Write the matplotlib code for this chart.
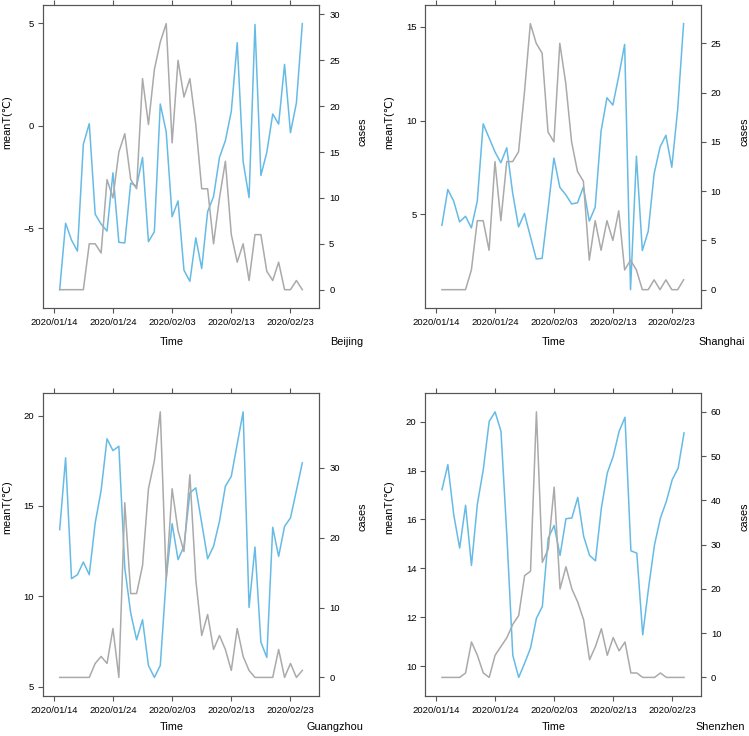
import numpy as np
import pandas as pd
import matplotlib
matplotlib.use('Agg')
import matplotlib.pyplot as plt

plt.rcParams['font.family'] = ['Liberation Sans', 'DejaVu Sans']

# daily series, 2020/01/15 .. 2020/02/25
days = pd.date_range('2020-01-15', periods=42)
tick_days = pd.to_datetime(['2020-01-14', '2020-01-24', '2020-02-03', '2020-02-13', '2020-02-23'])
tick_labels = ['2020/01/14', '2020/01/24', '2020/02/03', '2020/02/13', '2020/02/23']

bj_temp = [-8.0, -4.76, -5.58, -6.12, -0.9, 0.1, -4.32, -4.8, -5.14, -2.3, -5.69, -5.72,
           -2.8, -2.95, -1.55, -5.66, -5.17, 1.06, -0.3, -4.44, -3.67, -7.05, -7.59, -5.47,
           -6.97, -4.19, -3.46, -1.55, -0.73, 0.7, 4.05, -1.75, -3.51, 4.94, -2.43, -1.3,
           0.57, 0.08, 2.99, -0.34, 1.11, 4.98]
bj_cases = [0, 0, 0, 0, 0, 5, 5, 4, 12, 10, 15, 17, 12, 11, 23, 18, 24, 27, 29, 16, 25, 21,
            23, 18, 11, 11, 5, 10, 14, 6, 3, 5, 1, 6, 6, 2, 1, 3, 0, 0, 1, 0]

sh_temp = [4.41, 6.32, 5.7, 4.59, 4.89, 4.27, 5.7, 9.83, 9.08, 8.33, 7.75, 8.55, 6.14, 4.32,
           5.04, 3.82, 2.61, 2.64, 5.25, 8.0, 6.44, 6.05, 5.55, 5.61, 6.46, 4.63, 5.37, 9.44,
           11.22, 10.83, 12.38, 14.07, 0.97, 8.1, 3.06, 4.09, 7.16, 8.58, 9.22, 7.51, 10.6, 15.18]
sh_cases = [0, 0, 0, 0, 0, 2, 7, 7, 4, 13, 7, 13, 13, 14, 20, 27, 25, 24, 16, 15, 25, 21,
            15, 12, 11, 3, 7, 4, 7, 5, 8, 2, 3, 2, 0, 0, 1, 0, 1, 0, 0, 1]

gz_temp = [13.69, 17.66, 10.98, 11.2, 11.9, 11.2, 14.06, 15.85, 18.71, 18.06, 18.3, 11.57,
           9.08, 7.6, 8.71, 6.18, 5.52, 6.18, 11.0, 14.02, 12.03, 12.77, 15.72, 16.0, 14.06,
           12.08, 12.77, 14.15, 16.09, 16.64, 18.43, 20.2, 9.39, 12.73, 7.47, 6.62, 13.82,
           12.21, 13.87, 14.34, 15.85, 17.38]
gz_cases = [0, 0, 0, 0, 0, 0, 2, 3, 2, 7, 0, 25, 12, 12, 16, 27, 31, 38, 14, 27, 21, 18,
            29, 14, 6, 9, 4, 6, 4, 1, 7, 3, 1, 0, 0, 0, 0, 4, 0, 2, 0, 1]

sz_temp = [17.22, 18.24, 16.19, 14.83, 16.58, 14.12, 16.63, 18.04, 20.01, 20.4, 19.6, 15.31,
           10.44, 9.54, 10.12, 10.74, 11.96, 12.44, 15.24, 15.75, 14.53, 16.03, 16.06, 16.9,
           15.31, 14.53, 14.31, 16.47, 17.9, 18.58, 19.6, 20.18, 14.72, 14.62, 11.28, 13.22,
           14.97, 16.06, 16.74, 17.63, 18.1, 19.54]
sz_cases = [0, 0, 0, 0, 1, 8, 5, 1, 0, 5, 7, 9, 12, 14, 23, 24, 60, 26, 29, 43, 20, 25,
            20, 17, 13, 4, 7, 11, 5, 9, 6, 8, 1, 1, 0, 0, 0, 1, 0, 0, 0, 0]

W, H = 749, 736
blue = '#66BBE6'
gray = '#AAAAAA'
frame = '#555555'

fig = plt.figure(figsize=(W / 100, H / 100), dpi=100)


def label(x, y, s, **kw):
    fig.text(x / W, 1 - y / H, s, ha='center', va='center', fontsize=7.8, **kw)


def panel(box, temp, cases, t_ticks, c_ticks, city, dx, dy):
    l, t, r, b = box
    ax = fig.add_axes([l / W, 1 - b / H, (r - l) / W, (b - t) / H])
    ax.plot(days, temp, color=blue, lw=1.1)
    ax.margins(x=0.07, y=0.07)
    ax.set_yticks(t_ticks)
    ax.set_xticks(tick_days)
    ax.set_xticklabels(tick_labels)
    ax.tick_params(axis='x', top=True, labeltop=False, direction='out', length=3.6,
                   width=0.8, color=frame, labelsize=6.8, pad=3.5)
    ax.tick_params(axis='y', direction='out', length=3.6, width=0.8, color=frame,
                   labelsize=6.8, pad=2.5)
    ax2 = ax.twinx()
    ax2.plot(days, cases, color=gray, lw=1.1)
    ax2.margins(x=0.07, y=0.07)
    ax2.set_yticks(c_ticks)
    ax2.tick_params(axis='y', direction='out', length=3.6, width=0.8, color=frame,
                    labelsize=6.8, pad=3.5)
    for a in (ax, ax2):
        for s in a.spines.values():
            s.set_color(frame)
            s.set_linewidth(0.8)
    label(dx + 7, dy + 122, 'meanT(\u2103)', rotation=90)
    label(dx + 363, dy + 132, 'cases', rotation=90)
    label(dx + 172, dy + 342, 'Time')
    fig.text((dx + 363) / W, 1 - (dy + 342) / H, city, ha='right', va='center', fontsize=7.8)


panel((42.7, 5, 319.3, 308.3), bj_temp, bj_cases, [-5, 0, 5], [0, 5, 10, 15, 20, 25, 30],
      'Beijing', 0, 0)
panel((425, 5, 700.5, 308.3), sh_temp, sh_cases, [5, 10, 15], [0, 5, 10, 15, 20, 25],
      'Shanghai', 382, 0)
panel((42.7, 393.3, 319.3, 696), gz_temp, gz_cases, [5, 10, 15, 20], [0, 10, 20, 30],
      'Guangzhou', 0, 385)
panel((425, 393.3, 701, 696), sz_temp, sz_cases, [10, 12, 14, 16, 18, 20],
      [0, 10, 20, 30, 40, 50, 60], 'Shenzhen', 382, 385)

fig.savefig('out.png', dpi=100)
